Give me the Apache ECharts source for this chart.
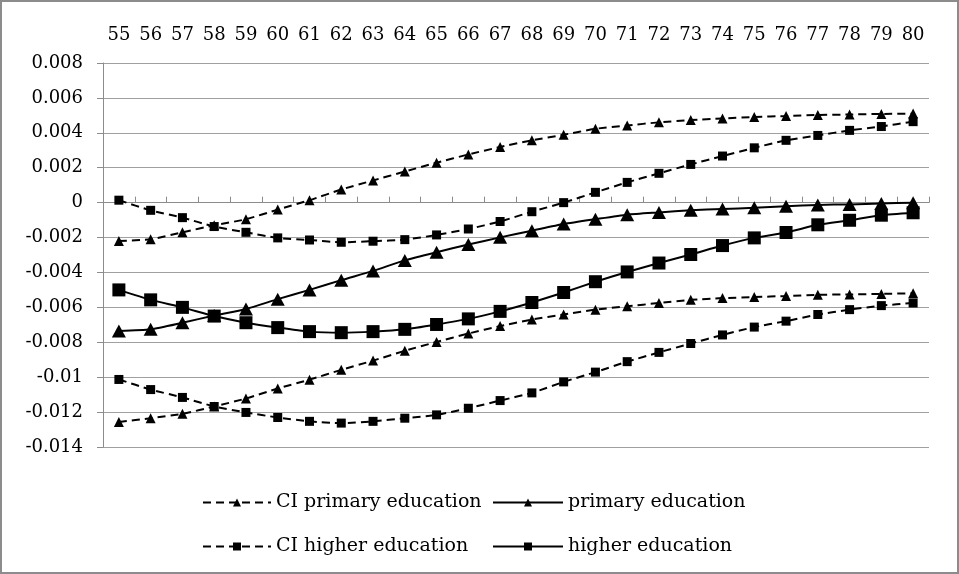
<!DOCTYPE html>
<html>
<head>
<meta charset="utf-8">
<script src="https://cdn.jsdelivr.net/npm/echarts@6/dist/echarts.min.js"></script>
<style>
    html, body {
        margin: 0;
        padding: 0;
        background: #fff;
    }

    #chart {
        width: 959px;
        height: 574px;
        box-sizing: border-box;
        border: 2px solid #8c8c8c;
    }
</style>
</head>
<body>
<div id="chart"></div>
<script>
const ages = ['55', '56', '57', '58', '59', '60', '61', '62', '63', '64', '65', '66', '67',
    '68', '69', '70', '71', '72', '73', '74', '75', '76', '77', '78', '79', '80'];

const ciPrimaryUpper = [-0.0022, -0.0021, -0.0017, -0.0013, -0.00095, -0.0004, 0.00014, 0.00075, 0.00127,
    0.00178, 0.00229, 0.00276, 0.00319, 0.00357, 0.00389, 0.00423, 0.00442, 0.0046, 0.00473, 0.00482,
    0.00491, 0.00496, 0.00502, 0.00505, 0.00508, 0.0051];
const primary = [-0.00736, -0.00726, -0.00688, -0.00647, -0.00609, -0.00553, -0.005, -0.00444, -0.00391,
    -0.00331, -0.00284, -0.0024, -0.00199, -0.00161, -0.00123, -0.00095, -0.00069, -0.00056, -0.00044,
    -0.00036, -0.0003, -0.00021, -0.00013, -0.0001, -0.00005, 0];
const ciPrimaryLower = [-0.01257, -0.01235, -0.0121, -0.01168, -0.01122, -0.01065, -0.01014, -0.00958,
    -0.00905, -0.00849, -0.00798, -0.0075, -0.00707, -0.0067, -0.00641, -0.00613, -0.00594, -0.00575,
    -0.00557, -0.00547, -0.00541, -0.00535, -0.00528, -0.00526, -0.00523, -0.00519];

const ciHigherUpper = [0.00014, -0.00044, -0.00086, -0.00137, -0.0017, -0.00202, -0.00214, -0.00227,
    -0.00221, -0.00212, -0.00185, -0.00151, -0.00108, -0.00052, 0, 0.00059, 0.00116, 0.00168, 0.00219,
    0.00267, 0.00314, 0.00357, 0.00385, 0.00414, 0.00436, 0.00464];
const higher = [-0.005, -0.00557, -0.006, -0.0065, -0.00688, -0.00716, -0.00739, -0.00745, -0.00739,
    -0.00726, -0.00698, -0.00666, -0.00623, -0.00572, -0.00515, -0.00453, -0.00397, -0.00346, -0.00297,
    -0.00246, -0.00202, -0.00171, -0.00127, -0.00101, -0.00072, -0.00058];
const ciHigherLower = [-0.01013, -0.01071, -0.01116, -0.01168, -0.01202, -0.01231, -0.01253, -0.01263,
    -0.01253, -0.01235, -0.01216, -0.01178, -0.01134, -0.0109, -0.01027, -0.00971, -0.00911, -0.00858,
    -0.00807, -0.00758, -0.00713, -0.00679, -0.00641, -0.00613, -0.0059, -0.00575];

const yMin = -0.014;
const yMax = 0.008;
const yStep = 0.002;

const font = 'DejaVu Serif';

const chart = echarts.init(document.getElementById('chart'));

// 虚线 = 置信区间, 实线 = 估计值
function makeSeries(name, data, symbol, dashed) {
    return {
        name: name,
        type: 'line',
        data: data,
        xAxisIndex: 0,
        smooth: 0.2,
        symbol: symbol,
        symbolSize: dashed ? (symbol === 'rect' ? 9 : [10, 10]) : (symbol === 'rect' ? 13 : [14, 13]),
        showSymbol: true,
        lineStyle: {
            color: '#000',
            width: 2,
            type: dashed ? [8, 5] : 'solid'
        },
        itemStyle: {
            color: '#000'
        },
        emphasis: {
            disabled: true
        },
        animation: false
    };
}

function makeLegend(name, left, top, iconWidth) {
    return {
        data: [name],
        left: left,
        top: top,
        itemWidth: iconWidth,
        itemHeight: 10,
        padding: 0,
        selectedMode: false,
        textStyle: {
            fontFamily: font,
            fontSize: 19,
            color: '#000'
        }
    };
}

chart.setOption({
    backgroundColor: '#fff',
    animation: false,
    grid: {
        left: 101,
        right: 28,
        top: 61,
        bottom: 125
    },
    legend: [
        makeLegend('CI primary education', 200, 491, 68),
        makeLegend('primary education', 490, 491, 70),
        makeLegend('CI higher education', 200, 535, 68),
        makeLegend('higher education', 490, 535, 70)
    ],
    xAxis: [
        {
            // 0 线上的轴和刻度
            type: 'category',
            data: ages,
            position: 'top',
            boundaryGap: true,
            axisLine: {
                onZero: true,
                lineStyle: { color: '#8c8c8c', width: 1 }
            },
            axisTick: {
                show: true,
                length: 6,
                lineStyle: { color: '#8c8c8c' }
            },
            axisLabel: { show: false },
            splitLine: { show: false }
        },
        {
            // 顶部标签
            type: 'category',
            data: ages,
            position: 'top',
            boundaryGap: true,
            axisLine: { show: false, onZero: false },
            axisTick: { show: false },
            axisLabel: {
                show: true,
                interval: 0,
                margin: 19,
                fontFamily: font,
                fontSize: 18,
                color: '#000'
            },
            splitLine: { show: false }
        }
    ],
    yAxis: {
        type: 'value',
        min: yMin,
        max: yMax,
        interval: yStep,
        axisLine: {
            show: true,
            lineStyle: { color: '#8c8c8c', width: 1 }
        },
        axisTick: {
            show: true,
            length: 6,
            lineStyle: { color: '#8c8c8c' }
        },
        axisLabel: {
            margin: 20,
            fontFamily: font,
            fontSize: 18,
            color: '#000',
            formatter: v => Number(v.toFixed(3)).toString()
        },
        splitLine: {
            show: true,
            lineStyle: { color: '#a0a0a0', width: 1 }
        }
    },
    series: [
        makeSeries('CI primary education', ciPrimaryUpper, 'triangle', true),
        makeSeries('CI primary education', ciPrimaryLower, 'triangle', true),
        makeSeries('primary education', primary, 'triangle', false),
        makeSeries('CI higher education', ciHigherUpper, 'rect', true),
        makeSeries('CI higher education', ciHigherLower, 'rect', true),
        makeSeries('higher education', higher, 'rect', false)
    ]
});
</script>
</body>
</html>
